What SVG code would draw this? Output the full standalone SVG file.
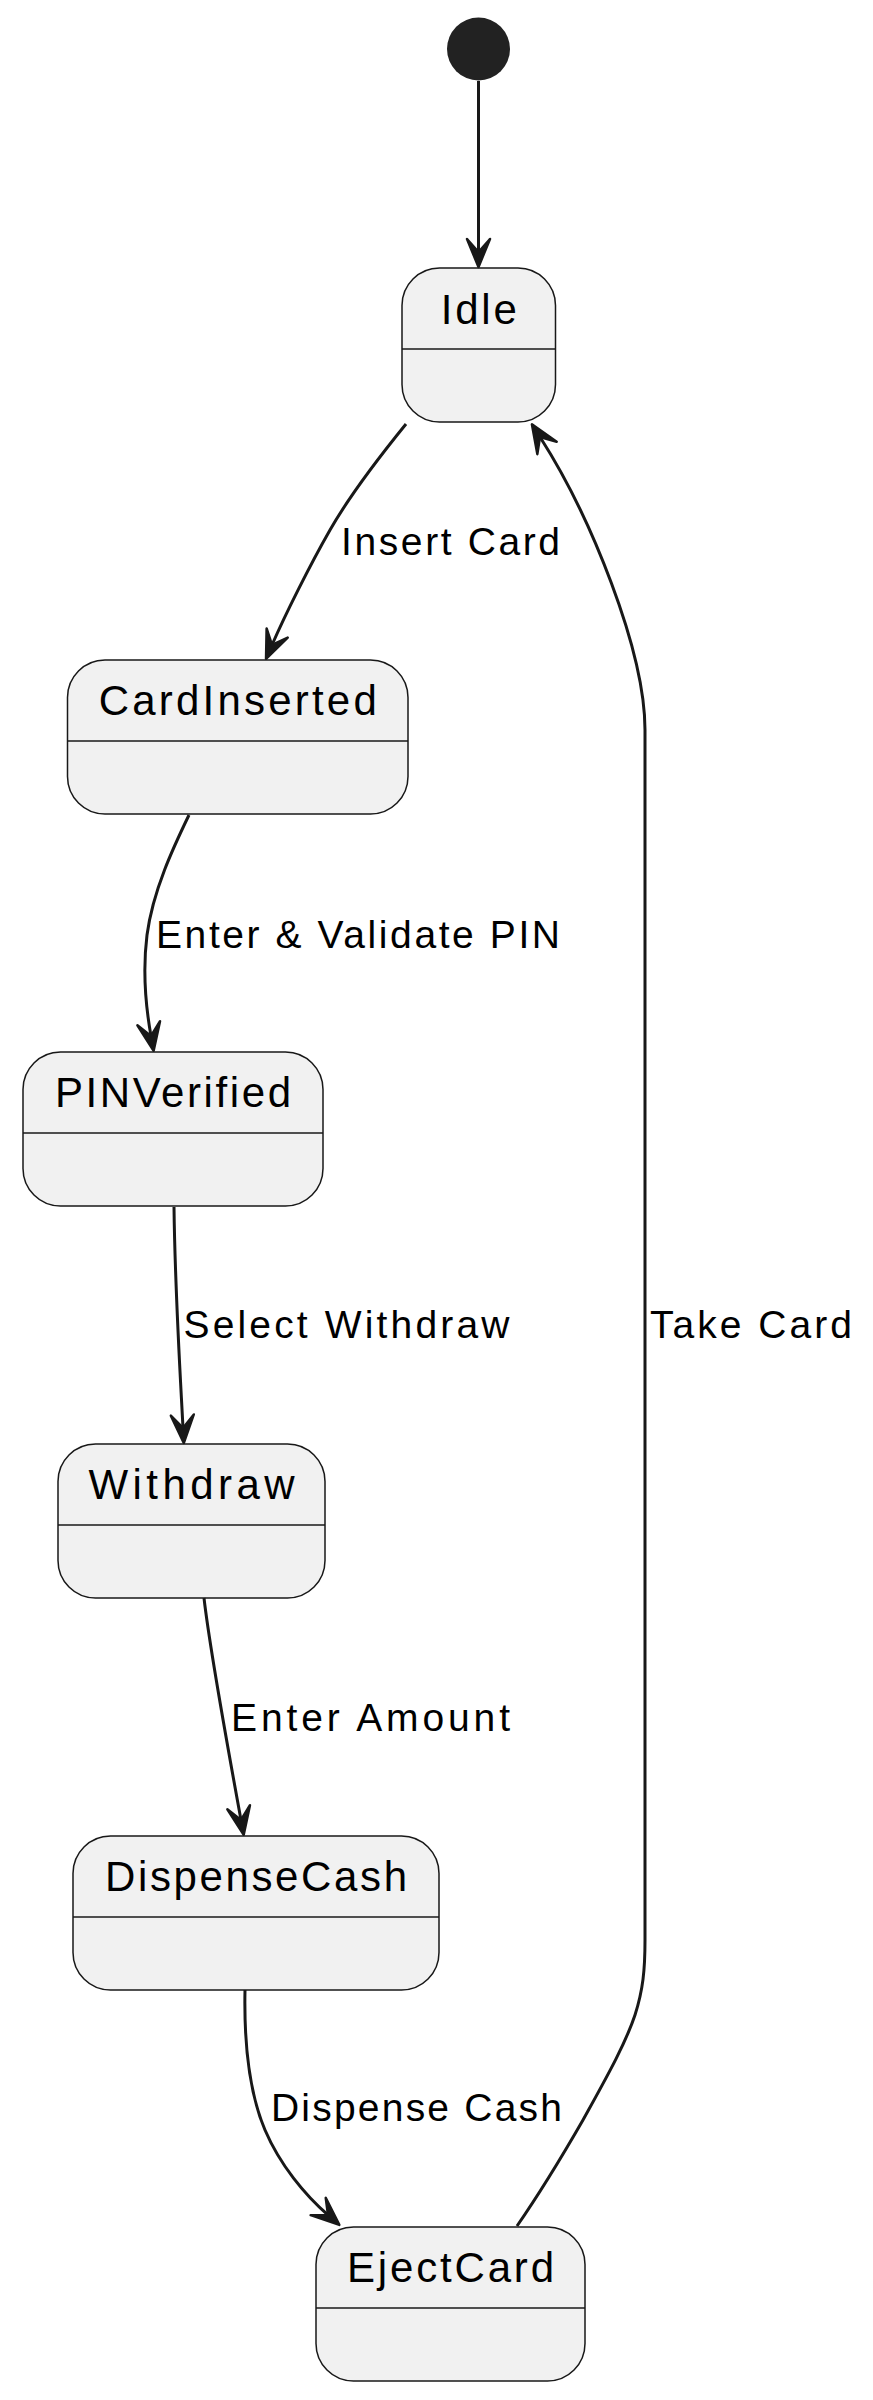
<svg xmlns="http://www.w3.org/2000/svg" width="873" height="2400" viewBox="0 0 873 2400">
<style>
.box{fill:#F1F1F1;stroke:#181818;stroke-width:1.5}
.sep{stroke:#181818;stroke-width:1.5}
.name{font-family:"Liberation Sans",Arial,sans-serif;font-size:42px;fill:#000;text-anchor:middle}
.lbl{font-family:"Liberation Sans",Arial,sans-serif;font-size:39px;fill:#000}
.edge{fill:none;stroke:#181818;stroke-width:3}
</style>
<defs>
<marker id="arr" markerUnits="userSpaceOnUse" markerWidth="50" markerHeight="50" viewBox="-20 -25 50 50" refX="0" refY="0" orient="auto" overflow="visible">
<path d="M15,0 L-13,-11.5 L0,0 L-13,11.5 Z" fill="#181818" stroke="#181818" stroke-width="2.5" stroke-linejoin="round"/>
</marker>
</defs>
<rect width="873" height="2400" fill="#FFFFFF"/>
<g id="start"><circle cx="478.5" cy="49" r="31.5" fill="#222222"/></g>
<g id="Idle">
<rect class="box" x="402" y="268" width="153.5" height="154" rx="37.5" ry="37.5"/>
<line class="sep" x1="402" y1="349" x2="555.5" y2="349"/>
<text class="name" x="478.75" y="323.5" textLength="76" lengthAdjust="spacing">Idle</text>
</g>
<g id="CardInserted">
<rect class="box" x="67.5" y="660" width="340.5" height="154" rx="37.5" ry="37.5"/>
<line class="sep" x1="67.5" y1="741" x2="408" y2="741"/>
<text class="name" x="237.75" y="715" textLength="278" lengthAdjust="spacing">CardInserted</text>
</g>
<g id="PINVerified">
<rect class="box" x="23" y="1052" width="300" height="154" rx="37.5" ry="37.5"/>
<line class="sep" x1="23" y1="1133" x2="323" y2="1133"/>
<text class="name" x="173" y="1107" textLength="236" lengthAdjust="spacing">PINVerified</text>
</g>
<g id="Withdraw">
<rect class="box" x="58" y="1444" width="267" height="154" rx="37.5" ry="37.5"/>
<line class="sep" x1="58" y1="1525" x2="325" y2="1525"/>
<text class="name" x="191.5" y="1499" textLength="206" lengthAdjust="spacing">Withdraw</text>
</g>
<g id="DispenseCash">
<rect class="box" x="73" y="1836" width="366" height="154" rx="37.5" ry="37.5"/>
<line class="sep" x1="73" y1="1917" x2="439" y2="1917"/>
<text class="name" x="256" y="1891" textLength="302" lengthAdjust="spacing">DispenseCash</text>
</g>
<g id="EjectCard">
<rect class="box" x="316" y="2227" width="269" height="154" rx="37.5" ry="37.5"/>
<line class="sep" x1="316" y1="2308" x2="585" y2="2308"/>
<text class="name" x="450.5" y="2282" textLength="207" lengthAdjust="spacing">EjectCard</text>
</g>
<g id="connectors">
<path class="edge" marker-end="url(#arr)" d="M478.5,81 L478.5,252"/>
<path class="edge" marker-end="url(#arr)" d="M406,424 C380,456 350,495 330,530 C310,565 285,615 272,645"/>
<path class="edge" marker-end="url(#arr)" d="M189,815 C174,846 153,890 147,935 C142,975 146,1008 151,1036"/>
<path class="edge" marker-end="url(#arr)" d="M174,1207 C175,1290 180,1370 183,1428"/>
<path class="edge" marker-end="url(#arr)" d="M204,1598 C210,1650 230,1760 241,1820"/>
<path class="edge" marker-end="url(#arr)" d="M245,1990 C244,2040 248,2090 265,2130 C280,2165 305,2195 328,2215"/>
<path class="edge" marker-end="url(#arr)" d="M517,2226 C535,2200 560,2160 583,2120 C605,2080 625,2045 635,2015 C643,1990 645,1970 645,1940 L645,730 C645,650 590,515 540,437"/>
<text class="lbl" x="341" y="554.5" textLength="219" lengthAdjust="spacing">Insert Card</text>
<text class="lbl" x="156" y="948" textLength="404" lengthAdjust="spacing">Enter &amp; Validate PIN</text>
<text class="lbl" x="183.5" y="1337.5" textLength="326" lengthAdjust="spacing">Select Withdraw</text>
<text class="lbl" x="650" y="1337.5" textLength="202" lengthAdjust="spacing">Take Card</text>
<text class="lbl" x="231" y="1731" textLength="279" lengthAdjust="spacing">Enter Amount</text>
<text class="lbl" x="271" y="2121" textLength="291" lengthAdjust="spacing">Dispense Cash</text>
</g>
</svg>
